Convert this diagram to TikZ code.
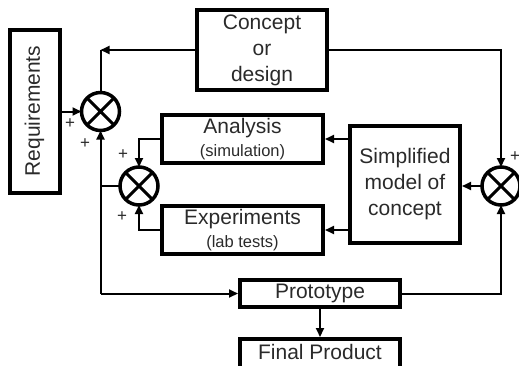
\documentclass[tikz,border=0pt]{standalone}
\usepackage{fontspec}
\setmainfont{Liberation Sans}
\usetikzlibrary{arrows.meta}
\definecolor{ink}{HTML}{2A2A2A}
\tikzset{
  blk/.style={draw, line width=4pt, rectangle, inner sep=0pt, text=ink, align=center,
              font=\fontsize{21}{26}\selectfont},
  sumj/.style={draw, circle, line width=3.5pt, minimum size=38pt, inner sep=0pt, outer sep=0pt},
  conn/.style={line width=2pt, -{Triangle[length=9pt,width=8pt]}},
  wire/.style={line width=2pt},
  sgn/.style={text=ink, font=\fontsize{17}{17}\selectfont, inner sep=0pt},
}
\newcommand{\subtext}[1]{{\fontsize{16.5}{18}\selectfont #1}}
\begin{document}
\begin{tikzpicture}[x=1pt,y=-1pt]
\useasboundingbox (0,0) rectangle (519,365);
\clip (0,0) rectangle (519,365);

% blocks
\node[blk, minimum width=50pt, minimum height=163pt] (req) at (35,111.5) {};
\node[rotate=90, text=ink, inner sep=0pt, font=\fontsize{21}{26}\selectfont] (reqtext) at (34.5,111) {Requirements};
\node[blk, minimum width=130pt, minimum height=80pt] (concept) at (262,50) {Concept\\or\\design};
\node[blk, minimum width=161pt, minimum height=48pt] (analysis) at (242.5,139) {Analysis\\[-3pt]\subtext{(simulation)}};
\node[blk, minimum width=161pt, minimum height=48pt] (experiments) at (242.5,230) {Experiments\\[-3pt]\subtext{(lab tests)}};
\node[blk, minimum width=110pt, minimum height=117pt] (simp) at (405,184.5) {Simplified\\model of\\concept};
\node[blk, minimum width=160pt, minimum height=27pt] (proto) at (320,293.5) {Prototype};
\node[blk, minimum width=160pt, minimum height=40pt, anchor=north] (final) at (320,337) {};
\node[text=ink, inner sep=0pt, font=\fontsize{21}{26}\selectfont] (finaltext) at (320,352) {Final Product};

% summing junctions
\node[sumj] (c1) at (100.5,111.5) {};
\node[sumj] (c2) at (139,186) {};
\node[sumj] (c3) at (501,186) {};
\foreach \c in {c1,c2,c3}
  \draw[line width=3pt] (\c.north west) -- (\c.south east) (\c.north east) -- (\c.south west);

% connectors
\coordinate (tl) at (100.5,50);
\coordinate (bl) at (100.5,293.5);
\draw[conn] (concept.west) -- (tl);
\draw[wire] (tl) -- (c1.north);
\draw[conn] (req.east |- c1.west) -- (c1.west);
\draw[conn] (concept.east) -| (c3.north);
\draw[conn] (c3.west) -- (simp.east |- c3.west);
\draw[conn] (simp.west |- analysis.east) -- (analysis.east);
\draw[conn] (simp.west |- experiments.east) -- (experiments.east);
\draw[conn] (analysis.west) -| (c2.north);
\draw[conn] (experiments.west) -| (c2.south);
\draw[wire] (c2.west) -- (c2.west -| bl);
\draw[conn] (bl) -- (c1.south);
\draw[conn] (bl) -- (proto.west);
\draw[conn] (proto.east) -| (c3.south);
\draw[conn] (proto.south) -- (final.north);

% signs
\node[sgn] (p1) at (70,124) {+};
\node[sgn] (p2) at (85,144) {+};
\node[sgn] (p3) at (123,155) {+};
\node[sgn] (p4) at (122,217) {+};
\node[sgn] (p5) at (515,157) {+};
\end{tikzpicture}
\end{document}
